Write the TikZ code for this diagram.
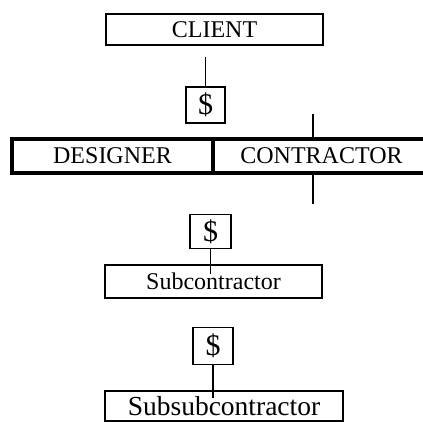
\documentclass[tikz,border=0pt]{standalone}
\usepackage{fontspec}
\setmainfont{Liberation Serif}
\usetikzlibrary{positioning}

\begin{document}
\begin{tikzpicture}[x=1pt,y=-1pt,
  party/.style={draw,line width=2pt,minimum height=31pt,inner sep=0pt,
    font=\fontsize{24}{28}\selectfont},
  firm/.style={draw,line width=3.5pt,minimum height=34pt,inner sep=0pt,
    font=\fontsize{24}{28}\selectfont},
  sub/.style={draw,line width=2.8pt,inner sep=0pt,font=\fontsize{24}{28}\selectfont},
  pay/.style={draw,line width=1.3pt,minimum width=39pt,minimum height=36pt,inner sep=0pt,
    font=\fontsize{30}{32}\selectfont},
  link/.style={line width=1.3pt}
]
  \useasboundingbox (0,0) rectangle (423,422);

  % Owner and first payment
  \node[party,minimum width=217pt] (client) at (214.5,30) {CLIENT};
  \node[pay] (dol1) at (205.5,105) {\$};
  \coordinate (ctail) at (205.5,57);
  \draw[link] (ctail) -- (dol1.north);

  % Design and build firms
  \node[firm,minimum width=201pt] (designer) at (112.5,156) {DESIGNER};
  \node[firm,minimum width=217pt] (contractor) at (321.5,156) {CONTRACTOR};
  \coordinate (ctop) at (313,114);
  \coordinate (cbot) at (313,204);
  \draw[link] (ctop) -- (ctop |- contractor.north);
  \draw[link] (contractor.south -| cbot) -- (cbot);

  % Subcontracting chain
  \node[pay,minimum width=41pt,minimum height=34pt] (dol2) at (210.5,231.5) {\$};
  \node[sub,minimum width=217pt,minimum height=33pt] (subc) at (213.5,281.5) {Subcontractor};
  \draw[link] (dol2.south) -- ([yshift=-10pt]dol2.south |- subc.north);

  \node[pay,minimum width=40pt,minimum height=37pt] (dol3) at (213,346) {\$};
  \node[sub,minimum width=238pt,minimum height=30pt,
    font=\fontsize{27.5}{30}\selectfont] (subsub) at (224,406) {Subsubcontractor};
  \draw[link] (dol3.south) -- ([yshift=-8pt]dol3.south |- subsub.north);
\end{tikzpicture}
\end{document}
